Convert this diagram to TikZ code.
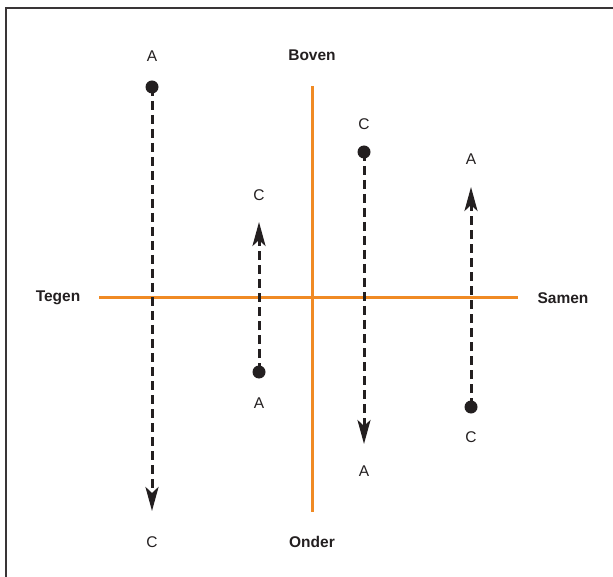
\documentclass[tikz,border=0pt]{standalone}
\usepackage{fontspec}
\setmainfont{Liberation Sans}
\usetikzlibrary{arrows.meta}
\definecolor{axisorange}{HTML}{F08A24}
\definecolor{ink}{HTML}{231F20}
\tikzset{
  axisline/.style={draw=axisorange, line width=3pt},
  flowline/.style={draw=ink, line width=3pt, dash pattern=on 9pt off 5pt, -{Stealth[length=24pt,width=13pt,inset=6pt]}},
  dotnode/.style={circle, fill=ink, inner sep=0pt, minimum size=13pt},
  lbl/.style={font=\fontsize{15.5pt}{17pt}\selectfont, text=ink, inner sep=0pt},
  axislbl/.style={font=\fontsize{15.5pt}{17pt}\selectfont\bfseries, text=ink, inner sep=0pt},
  frameline/.style={draw=ink!90, line width=2.2pt}
}
\begin{document}
\begin{tikzpicture}[x=1pt,y=-1pt]
\useasboundingbox (0,0) rectangle (613,577);
\coordinate (fb) at (6,577);
\coordinate (fc) at (6,8);
\coordinate (fr) at (613,8);
\draw[frameline] (fb) -- (fc) -- (fr);
% axes
\coordinate (hl) at (99,298);
\coordinate (hr) at (518,298);
\coordinate (vt) at (312,86);
\coordinate (vb) at (312,512);
\draw[axisline] (hl) -- (hr);
\draw[axisline] (vt) -- (vb);
\node[axislbl] (tegen) at (58,298) {Tegen};
\node[axislbl] (samen) at (563,298) {Samen};
\node[axislbl] (boven) at (312,55) {Boven};
\node[axislbl] (onder) at (312,542) {Onder};
% arrow 1
\node[dotnode] (d1) at (152,87) {};
\node[lbl] (a1) at (152,56) {A};
\coordinate (t1) at (152,511);
\node[lbl] (c1) at (152,542) {C};
\draw[flowline] (d1.center) -- (t1);
% arrow 2
\node[dotnode] (d2) at (259,372) {};
\node[lbl] (a2) at (259,403) {A};
\coordinate (t2) at (259,222);
\node[lbl] (c2) at (259,195) {C};
\draw[flowline] (d2.center) -- (t2);
% arrow 3
\node[dotnode] (d3) at (364,152) {};
\node[lbl] (c3) at (364,124) {C};
\coordinate (t3) at (364,444);
\node[lbl] (a3) at (364,471) {A};
\draw[flowline] (d3.center) -- (t3);
% arrow 4
\node[dotnode] (d4) at (471,407) {};
\node[lbl] (c4) at (471,437) {C};
\coordinate (t4) at (471,187);
\node[lbl] (a4) at (471,159) {A};
\draw[flowline] (d4.center) -- (t4);
\end{tikzpicture}
\end{document}
